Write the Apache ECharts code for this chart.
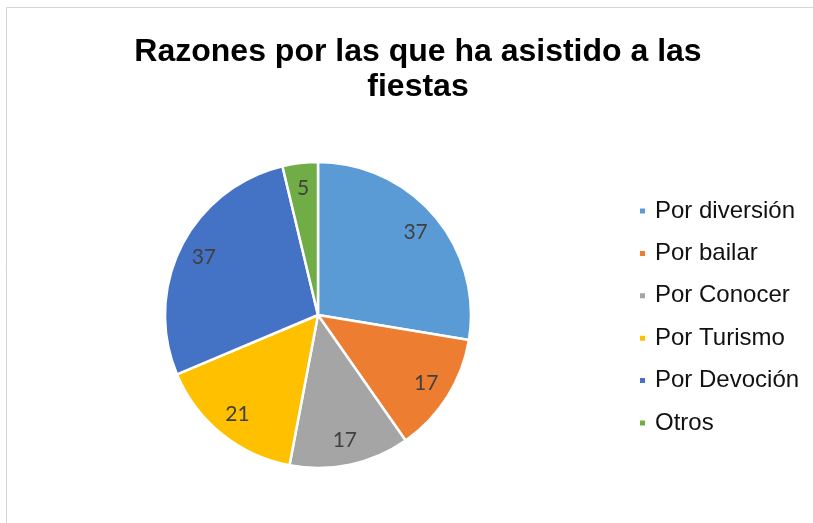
<!DOCTYPE html>
<html>
<head>
<meta charset="utf-8">
<script src="https://cdn.jsdelivr.net/npm/echarts@6/dist/echarts.min.js"></script>
<style>
html,body{margin:0;padding:0;background:#fff;}
#chart{width:813px;height:523px;}
</style>
</head>
<body>
<div id="chart"></div>
<script>
const titleText = 'Razones por las que ha asistido a las\nfiestas';
const categories = ['Por diversión', 'Por bailar', 'Por Conocer', 'Por Turismo', 'Por Devoción', 'Otros'];
const values = [37, 17, 17, 21, 37, 5];
const colors = ['#5B9BD5', '#ED7D31', '#A5A5A5', '#FFC000', '#4472C4', '#70AD47'];

const pieData = categories.map((name, i) => ({ name: name, value: values[i] }));

const chart = echarts.init(document.getElementById('chart'), null, { renderer: 'canvas' });
chart.setOption({
  backgroundColor: '#ffffff',
  animation: false,
  color: colors,
  title: {
    text: titleText,
    left: 413,
    textAlign: 'center',
    top: 30,
    textStyle: {
      fontFamily: 'Liberation Sans, Arial, sans-serif',
      fontWeight: 'bold',
      fontSize: 32,
      lineHeight: 35,
      color: '#000000'
    }
  },
  graphic: [{
    type: 'rect',
    shape: { x: 6.5, y: 7.5, width: 830, height: 540 },
    style: { fill: 'none', stroke: '#d4d4d4', lineWidth: 1 },
    silent: true
  }],
  legend: {
    orient: 'vertical',
    left: 633,
    top: 194,
    itemWidth: 7,
    itemHeight: 7,
    itemGap: 18.4,
    icon: 'rect',
    data: categories,
    textStyle: {
      fontFamily: 'Liberation Sans, Arial, sans-serif',
      fontSize: 24,
      lineHeight: 24,
      color: '#111111',
      padding: [0, 0, 0, 4]
    }
  },
  series: [{
    type: 'pie',
    center: [318, 315],
    radius: [0, 153],
    startAngle: 90,
    clockwise: true,
    label: { show: false },
    labelLine: { show: false },
    itemStyle: { borderColor: '#ffffff', borderWidth: 2.5 },
    emphasis: { disabled: true },
    data: pieData
  }, {
    type: 'pie',
    center: [318, 315],
    radius: [112, 138],
    startAngle: 90,
    clockwise: true,
    silent: true,
    itemStyle: { color: 'rgba(0,0,0,0)', borderWidth: 0 },
    label: {
      show: true,
      position: 'inside',
      formatter: '{c}',
      fontFamily: 'Lato, Liberation Sans, sans-serif',
      fontSize: 21,
      color: '#404040'
    },
    labelLine: { show: false },
    emphasis: { disabled: true },
    data: pieData
  }]
});
</script>
</body>
</html>
